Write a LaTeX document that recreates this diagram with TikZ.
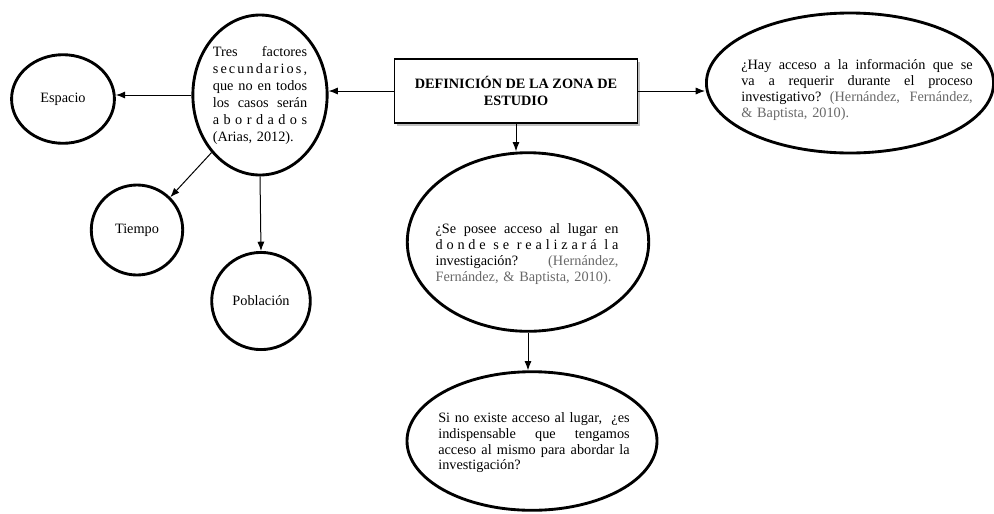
\documentclass[tikz,border=0pt]{standalone}
\usepackage{fontspec}
\setmainfont{Liberation Serif}
\usetikzlibrary{shapes.geometric, arrows.meta, positioning, shadows}
\definecolor{citegray}{RGB}{105,105,105}
\newlength{\jw}
% justified line, and letter-spaced justified line
\newcommand{\jl}[1]{\hbox to\jw{\spaceskip=.25em plus 1fil\xspaceskip=.25em plus 1fil\relax#1}\par}
\newcommand{\jls}[1]{\hbox to\jw{\spaceskip=.1pt plus 1fil\xspaceskip=.1pt plus 1fil\relax#1}\par}

\begin{document}
\begin{tikzpicture}[x=0.7pt, y=-0.7pt,
    title/.style={draw, line width=1pt, fill=white, minimum width=170pt, minimum height=45pt, align=center, font=\bfseries, drop shadow={shadow xshift=2pt, shadow yshift=-2pt, opacity=0.5}},
    idea/.style={draw, ellipse, line width=2pt, fill=white, inner sep=0pt},
    note/.style={text width=#1, inner sep=0pt, font=\fontsize{10}{11}\selectfont, execute at begin node={\setlength{\jw}{#1}}},
    arrow/.style={-{Latex[length=6.5pt, width=5pt]}, line width=0.7pt}
]
\useasboundingbox (0,0) rectangle (994,513);

% Main box
\node[title] (zona) at (516,91) {DEFINICIÓN DE LA ZONA DE\\ESTUDIO};

% Left branch
\node[idea, minimum width=94pt, minimum height=112pt, text width=66pt, font=\fontsize{10}{11.9}\selectfont, execute at begin node={\setlength{\jw}{66pt}}] (factores) at (260,95) {\jl{Tres factores}\jls{s e c u n d a r i o s ,}\jl{que no en todos}\jl{los casos serán}\jls{a b o r d a d o s}(Arias, 2012).};
\node[idea, minimum width=72pt, minimum height=62pt] (espacio) at (63,99) {Espacio};
\node[idea, minimum width=64pt, minimum height=63pt] (tiempo) at (137,230) {Tiempo};
\node[idea, minimum width=69pt, minimum height=68pt] (poblacion) at (261,301) {Población};

% Right and lower ellipses
\node[idea, minimum width=201pt, minimum height=98pt] (acceso) at (850,83) {};
\node[note=162pt] (acceso-txt) at (857,90) {\jl{¿Hay acceso a la información que se}\jl{va a requerir durante el proceso}\jl{investigativo? \textcolor{citegray}{(Hernández, Fernández,}}\textcolor{citegray}{\& Baptista, 2010).}};

\node[idea, minimum width=169pt, minimum height=125pt] (lugar) at (528,242) {};
\node[note=128pt] (lugar-txt) at (527,254) {\jl{¿Se posee acceso al lugar en}\jls{d o n d e\ \ s e\ \ r e a l i z a r á\ \ l a}\jl{investigación? \textcolor{citegray}{(Hernández,}}\textcolor{citegray}{Fernández, \& Baptista, 2010).}};

\node[idea, minimum width=175pt, minimum height=97pt] (indispensable) at (532,441) {};
\node[note=134pt] (indispensable-txt) at (534,443) {\jl{Si no existe acceso al lugar,\ \ ¿es}\jl{indispensable\ \ que\ \ tengamos}\jl{acceso al mismo para abordar la}investigación?};

% Arrows
\draw[arrow] (zona.west) -- (zona.west -| factores.east);
\draw[arrow] (zona.east) -- (zona.east -| acceso.west);
\draw[arrow] (zona.south) -- (zona.south |- lugar.north);
\draw[arrow] (factores.west) -- (factores.west -| espacio.east);
\draw[arrow] (factores.south west) -- (tiempo.north east);
\draw[arrow] (factores.south) -- (poblacion.north);
\draw[arrow] (lugar.south) -- (lugar.south |- indispensable.north);

\end{tikzpicture}
\end{document}
